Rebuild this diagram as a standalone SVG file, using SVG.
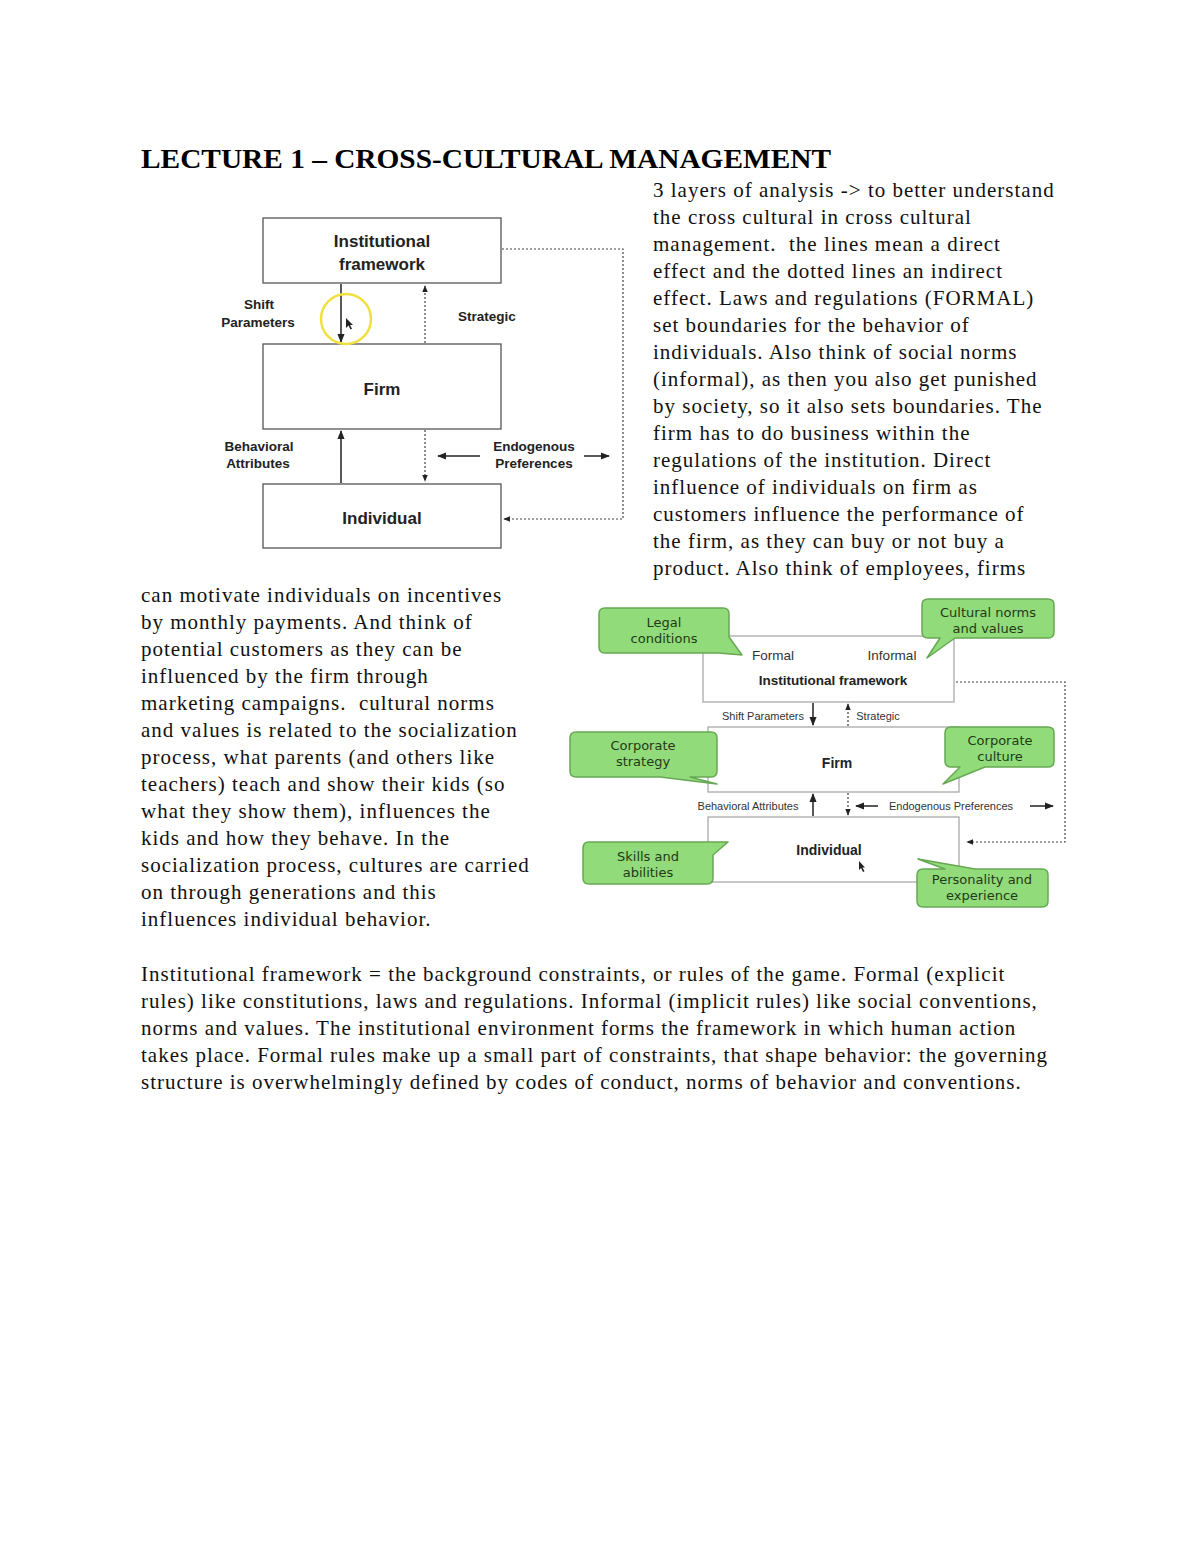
<svg xmlns="http://www.w3.org/2000/svg" width="1200" height="1553" viewBox="0 0 1200 1553">
<style>
.body{font-family:"Liberation Serif","Times New Roman",serif;font-size:21px;letter-spacing:1px;fill:#111}
.title{font-family:"Liberation Serif","Times New Roman",serif;font-size:27px;font-weight:bold;fill:#000}
.box{fill:#fff;stroke:#555;stroke-width:1.3}
.box2{fill:#fff;stroke:#aaa;stroke-width:1.3}
.lb{font-family:"Liberation Sans",Arial,sans-serif;font-weight:bold;fill:#222;text-anchor:middle}
.ls{font-family:"Liberation Sans",Arial,sans-serif;fill:#333;text-anchor:middle}
.solid{stroke:#222;stroke-width:1.5;fill:none}
.dot{stroke:#444;stroke-width:1.2;stroke-dasharray:2 2;fill:none}
.call{fill:#92db7b;stroke:#66a952;stroke-width:1.5;stroke-linejoin:round}
.ct{font-family:"DejaVu Sans",Verdana,sans-serif;font-size:13px;fill:#1f3a15;text-anchor:middle}
</style>
<defs>
<marker id="ah" viewBox="0 0 10 10" refX="9" refY="5" markerWidth="6" markerHeight="6" orient="auto-start-reverse"><path d="M0,1 L10,5 L0,9 z" fill="#222"/></marker>
</defs>
<rect width="1200" height="1553" fill="#fff"/>
<text class="title" x="141" y="168" textLength="690" lengthAdjust="spacingAndGlyphs">LECTURE 1 – CROSS-CULTURAL MANAGEMENT</text>

<!-- Diagram 1 -->
<g id="d1-connectors">
<line class="solid" x1="341" y1="284" x2="341" y2="342" marker-end="url(#ah)"/>
<line class="dot" x1="425" y1="343" x2="425" y2="286" marker-end="url(#ah)"/>
<line class="solid" x1="341" y1="483" x2="341" y2="431" marker-end="url(#ah)"/>
<line class="dot" x1="425" y1="430" x2="425" y2="481" marker-end="url(#ah)"/>
<line class="solid" x1="480" y1="456" x2="438" y2="456" stroke-width="1.2" marker-end="url(#ah)"/>
<line class="solid" x1="584" y1="456" x2="609" y2="456" stroke-width="1.2" marker-end="url(#ah)"/>
<polyline class="dot" points="502,249 623,249 623,519 504,519" marker-end="url(#ah)"/>
</g>
<g id="d1-inst"><rect class="box" x="263" y="218" width="238" height="65"/>
<text class="lb" x="382" y="247" font-size="17">Institutional</text><text class="lb" x="382" y="270" font-size="17">framework</text></g>
<g id="d1-firm"><rect class="box" x="263" y="344" width="238" height="85"/>
<text class="lb" x="382" y="395" font-size="17">Firm</text></g>
<g id="d1-indiv"><rect class="box" x="263" y="484" width="238" height="64"/>
<text class="lb" x="382" y="524" font-size="17">Individual</text></g>
<g id="d1-labels">
<text class="lb" x="259" y="309" font-size="13.5">Shift</text><text class="lb" x="258" y="327" font-size="13.5">Parameters</text>
<text class="lb" x="487" y="321" font-size="13.5">Strategic</text>
<text class="lb" x="259" y="451" font-size="13.5">Behavioral</text><text class="lb" x="258" y="468" font-size="13.5">Attributes</text>
<text class="lb" x="534" y="451" font-size="13.5">Endogenous</text><text class="lb" x="534" y="468" font-size="13.5">Preferences</text>
</g>
<g id="d1-highlight">
<circle cx="346" cy="319" r="25" fill="none" stroke="#f0e040" stroke-width="2.5"/>
<path d="M346,318 L346,328 L348.5,325.5 L350.5,329.5 L352,328.8 L350,325 L353,325 z" fill="#222"/>
</g>

<!-- Diagram 2 -->
<g id="d2-connectors">
<line class="solid" x1="813" y1="703" x2="813" y2="725" stroke-width="1.2" marker-end="url(#ah)"/>
<line class="dot" x1="848" y1="726" x2="848" y2="704" marker-end="url(#ah)"/>
<line class="solid" x1="813" y1="816" x2="813" y2="794" stroke-width="1.2" marker-end="url(#ah)"/>
<line class="dot" x1="848" y1="793" x2="848" y2="815" marker-end="url(#ah)"/>
<line class="solid" x1="878" y1="806" x2="856" y2="806" stroke-width="1.1" marker-end="url(#ah)"/>
<line class="solid" x1="1030" y1="806" x2="1053" y2="806" stroke-width="1.1" marker-end="url(#ah)"/>
<polyline class="dot" stroke="#999" points="956,682 1065,682 1065,842 967,842" marker-end="url(#ah)"/>
</g>
<g id="d2-inst"><rect class="box2" x="703" y="636" width="251" height="66"/>
<text class="ls" x="773" y="660" font-size="13.5">Formal</text><text class="ls" x="892" y="660" font-size="13.5">Informal</text>
<text class="lb" x="833" y="685" font-size="13.5">Institutional framework</text></g>
<g id="d2-firm"><rect class="box2" x="708" y="727" width="251" height="65"/>
<text class="lb" x="837" y="768" font-size="14">Firm</text></g>
<g id="d2-indiv"><rect class="box2" x="708" y="817" width="251" height="65"/>
<text class="lb" x="829" y="855" font-size="14">Individual</text>
<path d="M859,861 L859,870 L861,868 L863,872 L864.5,871.3 L862.5,867.5 L865,867.5 z" fill="#222"/></g>
<g id="d2-labels">
<text class="ls" x="763" y="720" font-size="11">Shift Parameters</text>
<text class="ls" x="878" y="720" font-size="11">Strategic</text>
<text class="ls" x="748" y="810" font-size="11">Behavioral Attributes</text>
<text class="ls" x="951" y="810" font-size="11">Endogenous Preferences</text>
</g>
<g id="c-legal"><path class="call" d="M605,608 H723 Q729,608 729,614 V637 L742,655 L719,653 H605 Q599,653 599,647 V614 Q599,608 605,608 z"/>
<text class="ct" x="664" y="627">Legal</text><text class="ct" x="664" y="643">conditions</text></g>
<g id="c-cultural"><path class="call" d="M928,599 H1048 Q1054,599 1054,605 V632 Q1054,638 1048,638 H955 L927,658 L940,638 H928 Q922,638 922,632 V605 Q922,599 928,599 z"/>
<text class="ct" x="988" y="617">Cultural norms</text><text class="ct" x="988" y="633">and values</text></g>
<g id="c-strategy"><path class="call" d="M576,732 H711 Q717,732 717,738 V771 Q717,777 711,777 H690 L717,784 L660,777 H576 Q570,777 570,771 V738 Q570,732 576,732 z"/>
<text class="ct" x="643" y="750">Corporate</text><text class="ct" x="643" y="766">strategy</text></g>
<g id="c-culture"><path class="call" d="M951,727 H1048 Q1054,727 1054,733 V761 Q1054,767 1048,767 H985 L943,784 L960,767 H951 Q945,767 945,761 V733 Q945,727 951,727 z"/>
<text class="ct" x="1000" y="745">Corporate</text><text class="ct" x="1000" y="761">culture</text></g>
<g id="c-skills"><path class="call" d="M589,842 H705 L728,842 L713,855 V878 Q713,884 707,884 H589 Q583,884 583,878 V848 Q583,842 589,842 z"/>
<text class="ct" x="648" y="861">Skills and</text><text class="ct" x="648" y="877">abilities</text></g>
<g id="c-personality"><path class="call" d="M923,869 H945 L918,859 L975,869 H1042 Q1048,869 1048,875 V901 Q1048,907 1042,907 H923 Q917,907 917,901 V875 Q917,869 923,869 z"/>
<text class="ct" x="982" y="884">Personality and</text><text class="ct" x="982" y="900">experience</text></g>

<!-- Body text -->
<g id="text-right" class="body">
<text x="653" y="197">3 layers of analysis -&gt; to better understand</text>
<text x="653" y="224">the cross cultural in cross cultural</text>
<text x="653" y="251" xml:space="preserve">management.  the lines mean a direct</text>
<text x="653" y="278">effect and the dotted lines an indirect</text>
<text x="653" y="305">effect. Laws and regulations (FORMAL)</text>
<text x="653" y="332">set boundaries for the behavior of</text>
<text x="653" y="359">individuals. Also think of social norms</text>
<text x="653" y="386">(informal), as then you also get punished</text>
<text x="653" y="413">by society, so it also sets boundaries. The</text>
<text x="653" y="440">firm has to do business within the</text>
<text x="653" y="467">regulations of the institution. Direct</text>
<text x="653" y="494">influence of individuals on firm as</text>
<text x="653" y="521">customers influence the performance of</text>
<text x="653" y="548">the firm, as they can buy or not buy a</text>
<text x="653" y="575">product. Also think of employees, firms</text>
</g>
<g id="text-left" class="body">
<text x="141" y="602">can motivate individuals on incentives</text>
<text x="141" y="629">by monthly payments. And think of</text>
<text x="141" y="656">potential customers as they can be</text>
<text x="141" y="683">influenced by the firm through</text>
<text x="141" y="710" xml:space="preserve">marketing campaigns.  cultural norms</text>
<text x="141" y="737">and values is related to the socialization</text>
<text x="141" y="764">process, what parents (and others like</text>
<text x="141" y="791">teachers) teach and show their kids (so</text>
<text x="141" y="818">what they show them), influences the</text>
<text x="141" y="845">kids and how they behave. In the</text>
<text x="141" y="872">socialization process, cultures are carried</text>
<text x="141" y="899">on through generations and this</text>
<text x="141" y="926">influences individual behavior.</text>
</g>
<g id="text-bottom" class="body">
<text x="141" y="981">Institutional framework = the background constraints, or rules of the game. Formal (explicit</text>
<text x="141" y="1008">rules) like constitutions, laws and regulations. Informal (implicit rules) like social conventions,</text>
<text x="141" y="1035">norms and values. The institutional environment forms the framework in which human action</text>
<text x="141" y="1062">takes place. Formal rules make up a small part of constraints, that shape behavior: the governing</text>
<text x="141" y="1089">structure is overwhelmingly defined by codes of conduct, norms of behavior and conventions.</text>
</g>
</svg>
